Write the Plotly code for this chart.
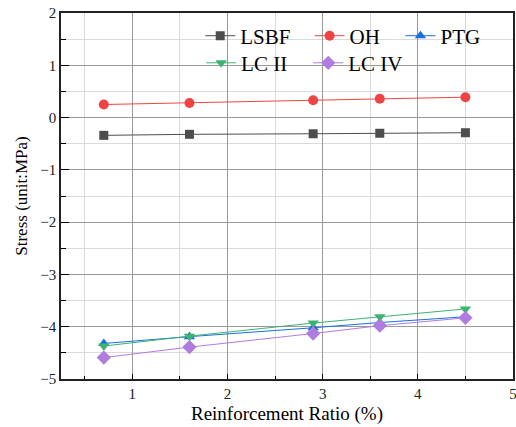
import plotly.graph_objects as go

ratio = [0.7, 1.6, 2.9, 3.6, 4.5]
lsbf = [-0.34, -0.32, -0.31, -0.30, -0.29]
oh = [0.25, 0.28, 0.33, 0.36, 0.39]
ptg = [-4.32, -4.19, -4.02, -3.92, -3.81]
lc2 = [-4.37, -4.18, -3.93, -3.81, -3.66]
lc4 = [-4.59, -4.39, -4.13, -3.98, -3.83]

series = [
    ("LSBF", lsbf, "#4d4d4d", "square", 9),
    ("OH", oh, "#f04444", "circle", 10),
    ("PTG", ptg, "#1a6fe0", "triangle-up", 10),
    ("LC II", lc2, "#3cb371", "triangle-down", 10),
    ("LC IV", lc4, "#b07ce0", "diamond", 11),
]
# legend entry placement (paper coords): one legend per entry
legend_pos = [(0.308, 0.937), (0.550, 0.937), (0.751, 0.937),
              (0.310, 0.863), (0.547, 0.863)]

FONT = "Liberation Serif, Times New Roman, serif"

fig = go.Figure()
legend_layout = {}
for i, (name, ys, col, sym, sz) in enumerate(series):
    key = "legend" if i == 0 else f"legend{i+1}"
    fig.add_trace(go.Scatter(
        x=ratio, y=ys, name=name, mode="lines+markers",
        line=dict(color=col, width=1),
        marker=dict(color=col, symbol=sym, size=sz, line=dict(width=0)),
        legend=key,
    ))
    lx, ly = legend_pos[i]
    legend_layout[key] = dict(
        x=lx, y=ly, xanchor="left", yanchor="middle",
        orientation="h", bgcolor="rgba(0,0,0,0)", borderwidth=0,
        itemwidth=30,
        font=dict(family=FONT, size=21, color="#000"),
    )

fig.update_layout(
    width=516, height=427,
    margin=dict(l=61, r=3, t=13, b=48),
    paper_bgcolor="white", plot_bgcolor="white",
    font=dict(family=FONT, size=15, color="#222"),
    showlegend=True,
    shapes=[dict(type="rect", xref="paper", yref="paper",
                 x0=0.263, x1=0.945, y0=0.822, y1=0.981,
                 fillcolor="white", line=dict(width=0), layer="between")],
    xaxis=dict(
        range=[0.25, 5.0], tickvals=[1, 2, 3, 4, 5], automargin=False,
        ticklabeloverflow="allow",
        showline=True, linecolor="#222", linewidth=1.5, mirror=True,
        ticks="inside", ticklen=5, tickcolor="black",
        showgrid=True, gridcolor="#9a9a9a", gridwidth=1,
        zeroline=False,
        minor=dict(dtick=0.5, tick0=0, showgrid=True, gridcolor="#dadada",
                   ticks="inside", ticklen=3, tickcolor="black"),
        title=dict(text="Reinforcement Ratio (%)", standoff=6,
                   font=dict(family=FONT, size=19, color="#000")),
        tickfont=dict(family=FONT, size=15, color="#222"),
    ),
    yaxis=dict(
        range=[-5, 2], dtick=1, automargin=False,
        showline=True, linecolor="#222", linewidth=1.5, mirror=True,
        ticks="inside", ticklen=8, tickcolor="black",
        showgrid=True, gridcolor="#9a9a9a", gridwidth=1,
        zeroline=False,
        minor=dict(dtick=0.5, showgrid=True, gridcolor="#dadada",
                   ticks="inside", ticklen=5, tickcolor="black"),
        title=dict(text="Stress (unit:MPa)", standoff=8,
                   font=dict(family=FONT, size=17, color="#000")),
        tickfont=dict(family=FONT, size=15, color="#222"),
    ),
)
fig.update_layout(**legend_layout)
fig.write_html("out.html")
